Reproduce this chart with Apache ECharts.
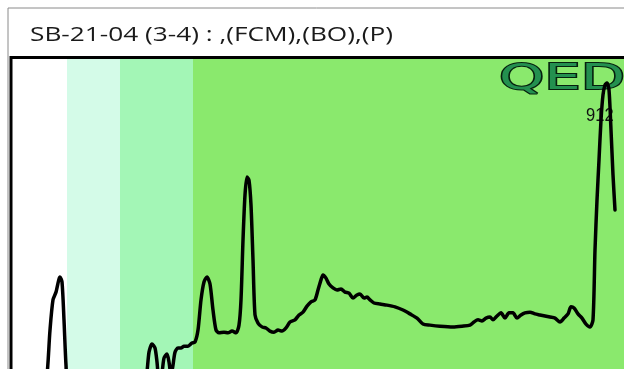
<!DOCTYPE html>
<html>
<head>
<meta charset="utf-8">
<script src="https://cdn.jsdelivr.net/npm/echarts@6/dist/echarts.min.js"></script>
<style>
html,body{margin:0;padding:0;background:#fff;}
#c{width:624px;height:369px;}
</style>
</head>
<body>
<div id="c"></div>
<script>
const titleText = 'SB-21-04 (3-4) : ,(FCM),(BO),(P)';
const logoText = 'QED';
const peakLabel = '912';

// band boundaries along the migration axis
const bandEdges = [0, 55, 108, 181, 612];
const bandColors = ['#ffffff', '#d4fbe8', '#a3f6b6', '#8ae96d'];

// densitometry trace: position and signal
const positions = [0,28,34,38,41,44,48,50,52,54,57,88,128,134,137,140,143,145,147,150,152,155,157,159,161,163,166,169,172,176,180,183,186,189,192,195,198,201,204,207,212,216,220,224,227,229,231,233,235,237,239,241,243,246,250,254,258,262,266,270,274,278,283,287,291,295,299,303,306,309,311,314,317,321,325,329,333,337,341,345,348,352,355,358,362,368,375,383,391,398,405,411,418,428,441,450,458,462,466,470,474,478,481,485,489,493,497,501,505,509,513,518,523,528,533,538,543,548,552,556,559,562,566,570,574,578,581,583,585,587,589,591,593,595,597,599,601,603];
const signal = [2.6,3.1,6.8,22.5,31.1,33.3,37.6,36.2,25.4,12.5,3.1,2.6,3.1,8.3,16.2,18.5,17.4,13.4,8.3,10.5,14.5,15.7,13.4,9.7,12.5,16.2,17.4,17.4,17.9,17.9,18.8,19.1,22.5,31.1,36.2,37.6,35.6,28.2,22.5,21.7,21.9,21.7,22.2,21.7,23.9,31.1,48.1,61.0,66.1,65.2,58.1,42.5,26.8,24.5,23.4,23.1,22.2,21.9,22.5,22.2,23.1,24.8,25.4,26.8,27.6,29.3,30.5,31.1,33.9,36.8,38.2,37.3,35.6,34.5,33.9,34.2,33.3,33.0,31.6,32.5,32.8,31.6,31.9,31.1,30.2,29.9,29.6,29.1,28.2,27.1,25.9,24.2,23.9,23.6,23.4,23.6,23.9,24.8,25.4,25.1,25.9,26.2,25.4,26.5,27.4,25.9,27.4,27.4,25.9,26.8,27.4,27.6,27.1,26.8,26.5,26.2,25.9,24.8,25.9,27.1,29.1,28.8,27.1,25.9,24.2,23.4,25.4,45.3,59.5,70.9,82.3,89.5,92.3,92.9,90.9,79.5,66.7,56.7];

// visible window of the signal axis (trace base lies below the frame)
const yMin = 11.4, yMax = 100;

const chart = echarts.init(document.getElementById('c'), null, {renderer: 'canvas'});

// fit title width to the reference box
const titleFont = '20px "Open Sans", sans-serif';
const mc = document.createElement('canvas').getContext('2d');
mc.font = titleFont;
const titleScale = 363 / mc.measureText(titleText).width;
const logoFont = '35px "DejaVu Sans", sans-serif';
mc.font = logoFont;
const logoScale = 126 / mc.measureText(logoText).width;

const bandAreas = bandColors.map((c, i) => [
  {xAxis: bandEdges[i], itemStyle: {color: c, opacity: 1}},
  {xAxis: bandEdges[i + 1]}
]);

chart.setOption({
  animation: false,
  backgroundColor: '#ffffff',
  grid: {left: 12, right: 0, top: 58, bottom: 0},
  xAxis: {type: 'value', min: 0, max: 612, show: false},
  yAxis: {type: 'value', min: yMin, max: yMax, show: false},
  graphic: [
    {type: 'rect', z: 0, shape: {x: 8, y: 8, width: 640, height: 400}, style: {fill: '#ffffff', stroke: '#8a8a8a', lineWidth: 1}},
    {type: 'text', z: 10, x: 30, y: 25, scaleX: titleScale, style: {text: titleText, font: titleFont, fill: '#1a1a1a'}},
    {type: 'text', z: 3, x: 499, y: 62, scaleX: logoScale, style: {text: logoText, font: logoFont, fill: '#23904f', stroke: '#06200e', lineWidth: 2}},
    {type: 'text', z: 3, x: 586, y: 107, scaleX: 0.92, style: {text: peakLabel, font: '18px "Liberation Sans", Arial, sans-serif', fill: '#111'}},
    {type: 'line', z: 20, shape: {x1: 11, y1: 57.5, x2: 624, y2: 57.5}, style: {stroke: '#000', lineWidth: 3}},
    {type: 'line', z: 20, shape: {x1: 11, y1: 56, x2: 11, y2: 369}, style: {stroke: '#000', lineWidth: 3}}
  ],
  series: [
    {
      type: 'line', z: 1, data: [], silent: true,
      markArea: {silent: true, data: bandAreas}
    },
    {
      type: 'line', z: 5, smooth: 0.25, symbol: 'none', clip: true,
      data: positions.map((p, i) => [p, signal[i]]),
      lineStyle: {color: '#000', width: 3.5, join: 'round', cap: 'round'}
    }
  ]
});
</script>
</body>
</html>
